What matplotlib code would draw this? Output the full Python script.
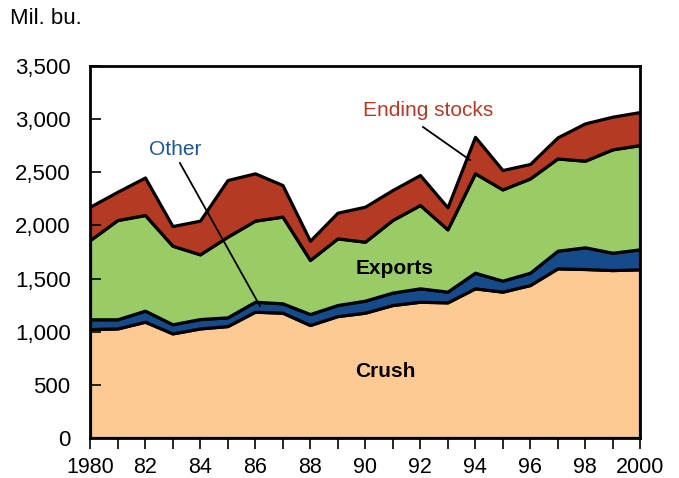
import matplotlib
matplotlib.use("Agg")
import matplotlib.pyplot as plt
import numpy as np

years = list(range(1980, 2001))
crush_top = [1025, 1031, 1094, 984, 1031, 1053, 1188, 1179, 1063, 1147, 1179,
             1251, 1282, 1276, 1408, 1377, 1439, 1596, 1590, 1580, 1587]
other_top = [1117, 1117, 1198, 1070, 1119, 1135, 1282, 1267, 1166, 1251, 1292,
             1368, 1408, 1377, 1555, 1480, 1555, 1762, 1794, 1743, 1775]
exports_top = [1862, 2051, 2098, 1809, 1728, 1894, 2045, 2083, 1675, 1878, 1847,
               2051, 2192, 1963, 2490, 2339, 2442, 2630, 2609, 2716, 2756]
total_top = [2176, 2317, 2451, 1994, 2045, 2427, 2490, 2380, 1856, 2120, 2176,
             2333, 2474, 2170, 2834, 2521, 2578, 2828, 2960, 3023, 3067]

crush = np.array(crush_top)
other = np.array(other_top) - np.array(crush_top)
exports = np.array(exports_top) - np.array(other_top)
stocks = np.array(total_top) - np.array(exports_top)

series_names = ["Crush", "Other", "Exports", "Ending stocks"]
colors = ["#FDCA94", "#154B8A", "#99CC66", "#B53A24"]

plt.rcParams['font.family'] = ['Liberation Sans', 'DejaVu Sans']

fig = plt.figure(figsize=(6.79, 4.78), dpi=100)
ax = fig.add_axes([90/679, 1-438/478, 550/679, 372/478])

x = np.array(years)
ax.stackplot(x, crush, other, exports, stocks, colors=colors,
             edgecolor="black", linewidth=2.3)

ax.set_xlim(1980, 2000)
ax.set_ylim(0, 3500)
ax.set_yticks(range(0, 3501, 500))
ax.set_yticklabels([f"{v:,}" for v in range(0, 3501, 500)])
ax.set_xticks(years)
ax.set_xticklabels(["1980" if y == 1980 else ("2000" if y == 2000 else (f"{y % 100:02d}" if y % 2 == 0 else "")) for y in years])

for s in ax.spines.values():
    s.set_linewidth(2)
ax.tick_params(axis='y', direction='in', length=8, width=1.2, labelsize=16, pad=14)
ax.tick_params(axis='x', direction='out', length=8, width=1.2, labelsize=15.5, pad=5.5)

fig.text(10/679, 1-19/478, "Mil. bu.", fontsize=16, ha='left', va='center')

ax.text(1991.07, 1599, "Exports", fontsize=15, fontweight='bold', ha='center', va='center')
ax.text(1990.73, 621, "Crush", fontsize=15, fontweight='bold', ha='center', va='center')
ax.text(1983.09, 2719, "Other", fontsize=15, color="#1F5596", ha='center', va='center')
ax.plot([1983.27, 1986.18], [2587, 1242], color='black', linewidth=1.3)
ax.text(1992.29, 3086, "Ending stocks", fontsize=15, color="#B53A24", ha='center', va='center')
ax.plot([1992.11, 1993.82], [2926, 2615], color='black', linewidth=1.3)

fig.savefig("out.png", dpi=100)
